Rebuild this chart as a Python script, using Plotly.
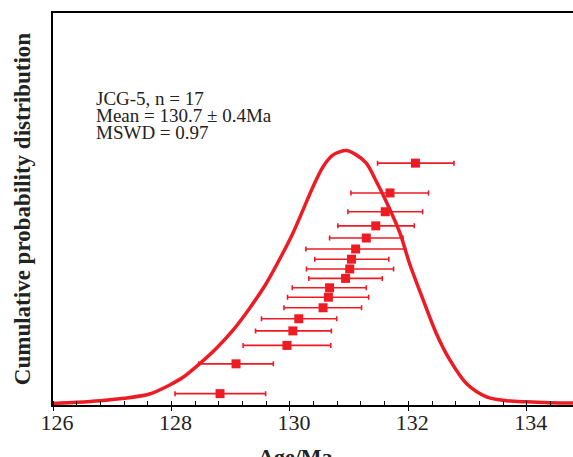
import plotly.graph_objects as go

# sample ages (Ma), sorted bottom to top, with 2-sigma errors
ages = [128.82, 129.09, 129.95, 130.05, 130.15, 130.56, 130.65, 130.67, 130.94,
        131.01, 131.04, 131.11, 131.29, 131.45, 131.61, 131.69, 132.12]
err_minus = [0.76, 0.63, 0.74, 0.63, 0.63, 0.66, 0.69, 0.63, 0.62,
             0.73, 0.62, 0.84, 0.62, 0.64, 0.63, 0.66, 0.64]
err_plus = [0.77, 0.63, 0.74, 0.65, 0.64, 0.65, 0.68, 0.62, 0.62,
            0.74, 0.63, 0.84, 0.62, 0.65, 0.63, 0.65, 0.65]
rank_pos = [0.029, 0.105, 0.152, 0.189, 0.220, 0.248, 0.275, 0.299, 0.323,
            0.347, 0.372, 0.398, 0.426, 0.457, 0.493, 0.541, 0.617]

# probability curve
curve_age = [126.0, 126.4, 126.8, 127.2, 127.63, 127.97, 128.19, 128.48, 128.76,
             129.04, 129.32, 129.60, 129.88, 130.05, 130.22, 130.39, 130.56, 130.73,
             130.95, 131.10, 131.29, 131.46, 131.63, 131.86, 132.02, 132.25, 132.47,
             132.70, 132.98, 133.32, 133.66, 134.0, 134.39, 134.8]
curve_p = [0.004, 0.007, 0.011, 0.017, 0.028, 0.051, 0.070, 0.106, 0.145,
           0.191, 0.247, 0.310, 0.387, 0.438, 0.497, 0.557, 0.608, 0.638,
           0.649, 0.640, 0.617, 0.570, 0.518, 0.438, 0.361, 0.268, 0.183,
           0.115, 0.055, 0.021, 0.011, 0.008, 0.006, 0.005]

info_lines = ["JCG-5, n = 17", "Mean = 130.7 ± 0.4Ma", "MSWD = 0.97"]

red = "#ED1C24"
serif = "Liberation Serif"

fig = go.Figure()
fig.add_trace(go.Scatter(x=curve_age, y=curve_p, mode="lines",
                         line=dict(color=red, width=3.5, shape="spline", smoothing=0.85),
                         hoverinfo="skip"))
fig.add_trace(go.Scatter(
    x=ages, y=rank_pos, mode="markers",
    marker=dict(symbol="square", size=9, color=red),
    error_x=dict(type="data", symmetric=False, array=err_plus, arrayminus=err_minus,
                 color=red, thickness=1.6, width=2.5)))

# three text lines, set one by one to get the tight line spacing
for i, line in enumerate(info_lines):
    fig.add_annotation(x=0.079, y=0.783 - i * 0.0435, xref="paper", yref="paper",
                       xanchor="left", yanchor="middle", showarrow=False, text=line,
                       font=dict(family=serif, size=19, color="#222"))

fig.add_annotation(x=0.467, y=-0.094, xref="paper", yref="paper", xanchor="center",
                   yanchor="top", showarrow=False, text="<b>Age/Ma</b>",
                   font=dict(family=serif, size=22, color="#222"))

fig.update_xaxes(range=[126, 134.78], dtick=2, tick0=126,
                 showline=True, linecolor="black", linewidth=2, mirror=True,
                 ticks="outside", ticklen=4, tickwidth=1.2, tickcolor="black",
                 ticklabelstandoff=-7, ticklabelshift=4,
                 minor=dict(dtick=0.4, ticks="inside", ticklen=4, tickwidth=1.2, tickcolor="black"),
                 showgrid=False, zeroline=False,
                 tickfont=dict(family=serif, size=22, color="#222"))
fig.update_yaxes(range=[0, 1], showticklabels=False, showgrid=False, zeroline=False,
                 showline=True, linecolor="black", linewidth=2, ticks="",
                 title=dict(text="<b>Cumulative probability distribution</b>", standoff=14,
                            font=dict(family=serif, size=23, color="#222")))

fig.update_layout(width=573, height=457, showlegend=False,
                  margin=dict(l=53, r=0, t=13, b=52),
                  plot_bgcolor="white", paper_bgcolor="white")

fig.write_html("out.html", config={"displayModeBar": False},
               post_script="document.body.style.margin='0';")
